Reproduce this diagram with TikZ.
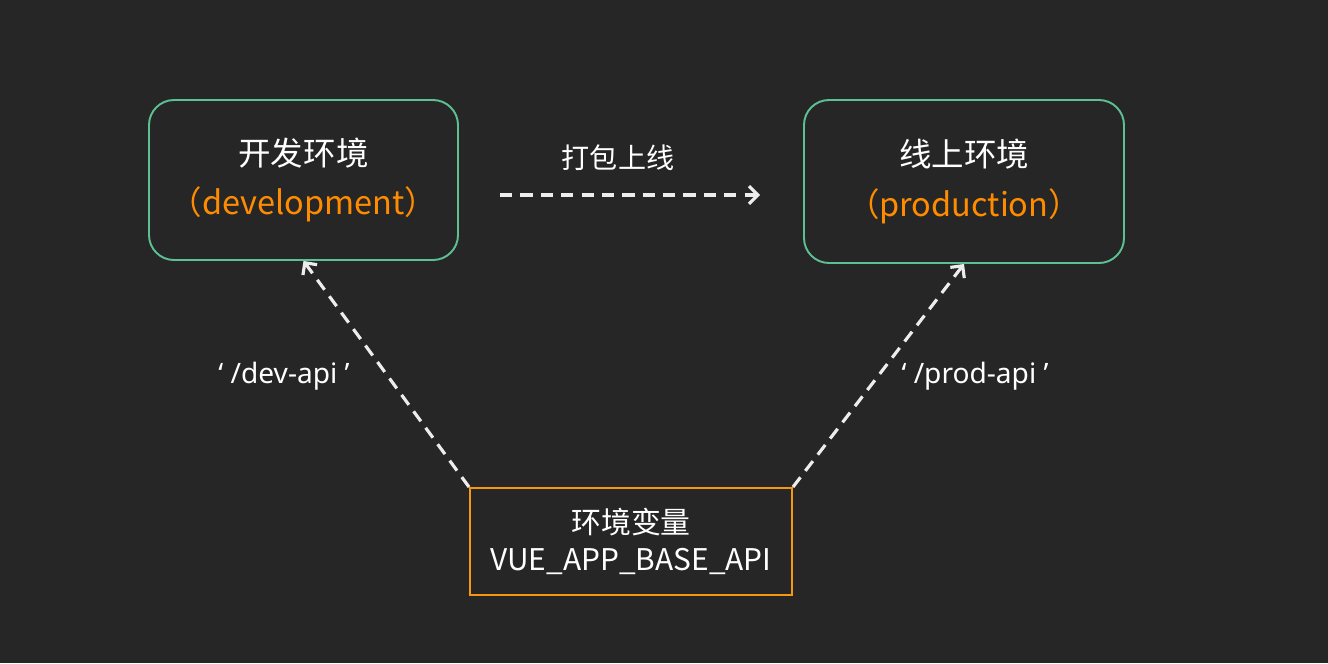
\documentclass[tikz,border=0pt]{standalone}
\usepackage{fontspec}
\setmainfont{Noto Sans CJK SC}
\newfontfamily\latinfont{Noto Sans}
\usetikzlibrary{arrows.meta}
\definecolor{bgdark}{HTML}{262626}
\definecolor{envgreen}{HTML}{5CC093}
\definecolor{envorange}{HTML}{FF8C00}
\definecolor{varorange}{HTML}{F5980F}
\definecolor{lightline}{HTML}{EDEDED}
\begin{document}
\begin{tikzpicture}[x=0.02cm, y=-0.02cm,
    envbox/.style={draw=envgreen, line width=1.1pt, rounded corners=0.5cm,
      text=white, align=center, font=\fontsize{18.5}{30}\selectfont},
    varbox/.style={draw=varorange, line width=1.1pt, text=white, align=center,
      font=\fontsize{17}{21}\selectfont},
    dasharrow/.style={draw=lightline, line width=1.8pt, dash pattern=on 7pt off 4.6pt,
      -{Straight Barb[length=5pt, width=10pt, line width=1.8pt]}},
    lbl/.style={text=white, font=\fontsize{16}{18}\selectfont}]
      \fill[bgdark] (0,0) rectangle (1328,663);
      \node[envbox, minimum width=309*0.02cm, minimum height=160*0.02cm] (dev) at (303.5,180)
        {开发环境\\[-2pt]\textcolor{envorange}{（development）}};
      \node[envbox, minimum width=320*0.02cm, minimum height=163*0.02cm] (prod) at (964,181.5)
        {线上环境\\[-2pt]\textcolor{envorange}{（production）}};
      \node[varbox, minimum width=322*0.02cm, minimum height=107*0.02cm] (env) at (631,541.5)
        {环境变量\\VUE\_APP\_BASE\_API};
      \coordinate (pkgfrom) at (500,195);
      \coordinate (pkgto) at (760,195);
      \draw[dasharrow] (pkgfrom) -- (pkgto);
      \draw[dasharrow] (env.north west) -- (dev.south);
      \draw[dasharrow] (env.north east) -- (prod.south);
      \node[lbl] (pkglbl) at (618,158) {打包上线};
      \node[lbl] (devlbl) at (284,376) {\latinfont ‘ /dev-api ’};
      \node[lbl] (prodlbl) at (975,376) {\latinfont ‘ /prod-api ’};
    \end{tikzpicture}
\end{document}
